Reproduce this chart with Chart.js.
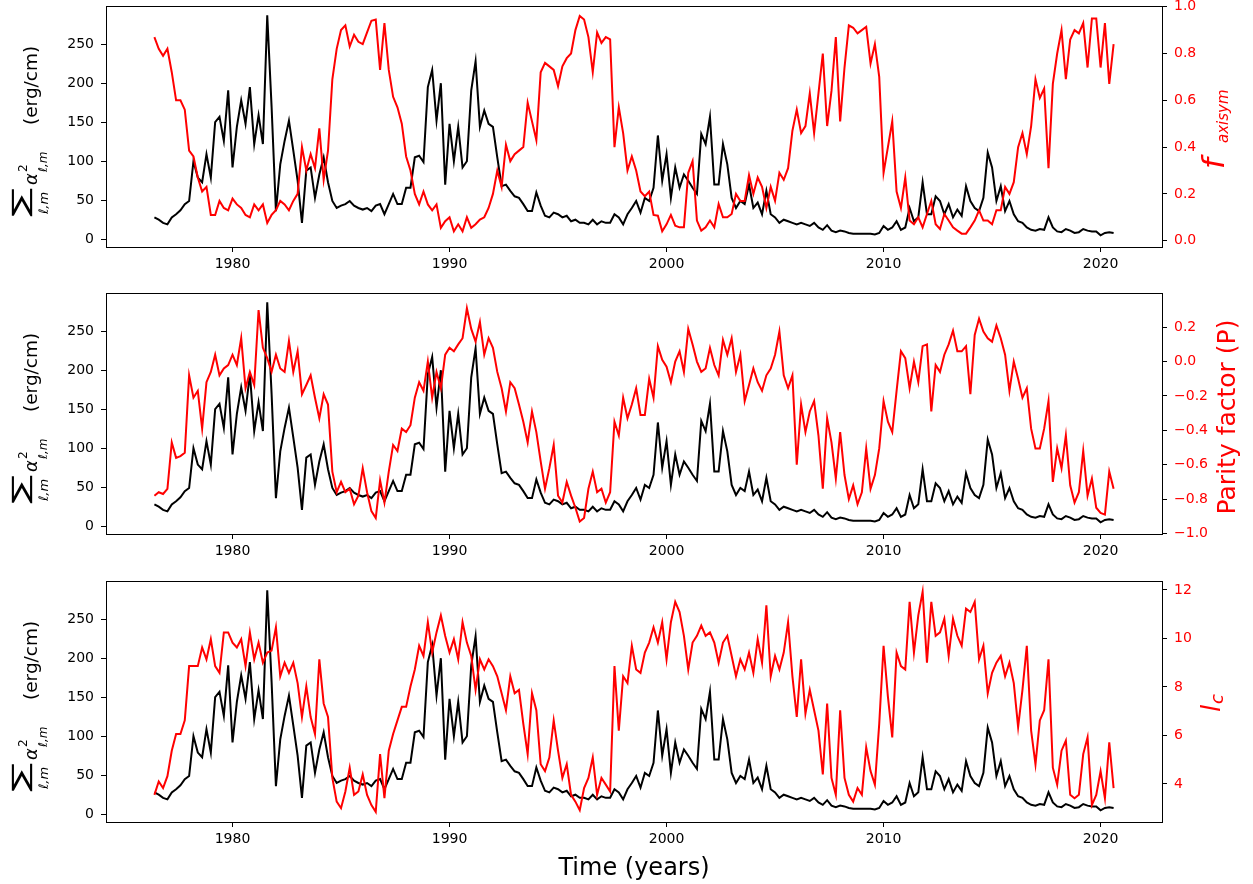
<!DOCTYPE html>
<html>
<head>
<meta charset="utf-8">
<script src="https://cdn.jsdelivr.net/npm/chart.js@4.4.0/dist/chart.umd.min.js"></script>
<style>
  html, body { margin: 0; padding: 0; background: #fff; }
  #wrap { position: relative; width: 1253px; height: 884px; }
  #wrap canvas { position: absolute; left: 0; }
</style>
</head>
<body>
<div id="wrap">
  <canvas id="p1" width="1253" height="287" style="top:0px"></canvas>
  <canvas id="p2" width="1253" height="288" style="top:287px"></canvas>
  <canvas id="p3" width="1253" height="309" style="top:575px"></canvas>
</div>
<script>
// sampling of every series: start year and step (years)
const T0 = 1976.4;
const DT = 0.2;

// total power, sum over l,m of alpha^2 (erg/cm)
const sumAlpha = [
  28, 25, 21,                 // 1976
  19, 28, 32, 37, 45,         // 1977
  49, 100, 79, 73, 109,
  79, 150, 157, 126, 191,
  92, 144, 178, 148, 195,     // 1980
  122, 159, 122, 287, 170,
  36, 96, 126, 152, 114,
  75, 21, 88, 92, 53,
  83, 105, 73, 49, 40,
  43, 45, 49, 43, 40,         // 1985
  38, 40, 36, 43, 45,
  32, 45, 58, 45, 45,
  66, 66, 105, 107, 99,
  195, 217, 152, 200, 70,
  148, 100, 144, 92, 100,     // 1990
  191, 228, 144, 165, 148,
  144, 105, 68, 70, 62,
  55, 53, 45, 36, 36,
  60, 43, 30, 28, 34,
  32, 28, 30, 23, 25,         // 1995
  21, 21, 19, 25, 19,
  23, 21, 21, 32, 28,
  19, 32, 40, 49, 34,
  53, 49, 66, 133, 75,
  109, 53, 92, 66, 83,        // 2000
  75, 66, 58, 135, 122,
  157, 70, 70, 122, 96,
  53, 40, 49, 45, 70,
  40, 47, 32, 62, 32,
  28, 21, 25, 23, 21,         // 2005
  19, 21, 19, 17, 21,
  15, 12, 18, 11, 9,
  11, 10, 8, 7, 7,
  7, 7, 7, 6, 8,
  17, 12, 15, 23, 12,         // 2010
  15, 40, 23, 28, 73,
  32, 32, 55, 49, 32,
  45, 28, 38, 30, 68,
  49, 40, 36, 53, 111,
  92, 49, 68, 36, 49,         // 2015
  32, 23, 21, 15, 12,
  11, 13, 12, 28, 15,
  10, 9, 13, 11, 8,
  9, 13, 11, 10, 10,
  5, 8, 9, 8                  // 2020
];

// fraction of non-axisymmetric power
const fAxisym = [
  0.87, 0.82, 0.79,
  0.82, 0.72, 0.60, 0.60, 0.56,
  0.385, 0.36, 0.27, 0.21, 0.23,
  0.11, 0.11, 0.17, 0.14, 0.13,
  0.18, 0.155, 0.14, 0.11, 0.10,       // 1980
  0.155, 0.13, 0.155, 0.076, 0.11,
  0.13, 0.17, 0.155, 0.13, 0.17,
  0.20, 0.40, 0.30, 0.37, 0.31,
  0.48, 0.26, 0.385, 0.69, 0.82,
  0.90, 0.92, 0.83, 0.88, 0.85,        // 1985
  0.84, 0.89, 0.94, 0.945, 0.73,
  0.93, 0.73, 0.615, 0.57, 0.50,
  0.36, 0.30, 0.20, 0.155, 0.21,
  0.155, 0.13, 0.155, 0.055, 0.083,
  0.10, 0.04, 0.07, 0.04, 0.10,        // 1990
  0.055, 0.07, 0.09, 0.10, 0.14,
  0.20, 0.30, 0.23, 0.41, 0.34,
  0.37, 0.385, 0.40, 0.59, 0.51,
  0.43, 0.72, 0.76, 0.745, 0.73,
  0.66, 0.745, 0.78, 0.80, 0.90,       // 1995
  0.96, 0.945, 0.87, 0.72, 0.89,
  0.845, 0.87, 0.86, 0.40, 0.57,
  0.46, 0.30, 0.36, 0.30, 0.21,
  0.19, 0.21, 0.11, 0.107, 0.04,
  0.07, 0.11, 0.064, 0.057, 0.057,     // 2000
  0.29, 0.34, 0.086, 0.043, 0.057,
  0.086, 0.057, 0.157, 0.10, 0.10,
  0.114, 0.20, 0.17, 0.17, 0.28,
  0.20, 0.27, 0.23, 0.14, 0.23,
  0.17, 0.29, 0.26, 0.31, 0.47,        // 2005
  0.56, 0.46, 0.49, 0.63, 0.46,
  0.63, 0.80, 0.49, 0.64, 0.87,
  0.51, 0.74, 0.92, 0.91, 0.886,
  0.90, 0.914, 0.757, 0.84, 0.70,
  0.29, 0.40, 0.51, 0.21, 0.14,        // 2010
  0.27, 0.086, 0.07, 0.10, 0.057,
  0.114, 0.17, 0.07, 0.05, 0.114,
  0.086, 0.057, 0.043, 0.03, 0.03,
  0.057, 0.086, 0.13, 0.086, 0.086,
  0.07, 0.13, 0.13, 0.23, 0.20,        // 2015
  0.25, 0.40, 0.46, 0.37, 0.49,
  0.69, 0.61, 0.65, 0.31, 0.67,
  0.80, 0.90, 0.69, 0.86, 0.90,
  0.886, 0.93, 0.74, 0.95, 0.95,
  0.74, 0.93, 0.67, 0.84               // 2020
];

// parity factor P
const parity = [
  -0.78, -0.76, -0.77,
  -0.74, -0.47, -0.56, -0.55, -0.53,
  -0.08, -0.21, -0.17, -0.39, -0.12,
  -0.06, 0.04, -0.08, -0.04, -0.02,
  0.04, -0.02, 0.136, -0.155, -0.06,   // 1980
  -0.136, 0.30, 0.08, 0.02, -0.06,
  0.04, -0.04, -0.06, 0.12, -0.06,
  0.06, -0.19, -0.136, -0.08, -0.21,
  -0.33, -0.19, -0.25, -0.64, -0.76,
  -0.70, -0.76, -0.74, -0.83, -0.78,   // 1985
  -0.62, -0.76, -0.87, -0.91, -0.69,
  -0.82, -0.64, -0.485, -0.52, -0.39,
  -0.41, -0.37, -0.21, -0.12, -0.17,
  0.0, -0.21, -0.06, -0.155, 0.04,
  0.08, 0.06, 0.10, 0.136, 0.31,       // 1990
  0.19, 0.116, 0.23, 0.04, 0.136,
  0.08, -0.06, -0.155, -0.29, -0.12,
  -0.155, -0.25, -0.35, -0.47, -0.29,
  -0.41, -0.58, -0.74, -0.62, -0.485,
  -0.78, -0.82, -0.70, -0.78, -0.85,   // 1995
  -0.93, -0.91, -0.74, -0.64, -0.76,
  -0.74, -0.82, -0.76, -0.35, -0.43,
  -0.21, -0.33, -0.25, -0.155, -0.31,
  -0.31, -0.10, -0.21, 0.09, 0.01,
  -0.03, -0.12, 0.0, 0.06, -0.06,      // 2000
  0.19, 0.10, 0.0, -0.06, -0.04,
  0.08, -0.02, -0.08, 0.126, 0.04,
  0.136, -0.06, 0.04, -0.23, -0.136,
  -0.04, -0.12, -0.17, -0.08, -0.04,
  0.04, 0.175, -0.08, -0.155, -0.08,   // 2005
  -0.60, -0.25, -0.41, -0.29, -0.23,
  -0.43, -0.74, -0.33, -0.47, -0.68,
  -0.41, -0.66, -0.80, -0.72, -0.83,
  -0.76, -0.505, -0.74, -0.66, -0.505,
  -0.23, -0.35, -0.41, -0.17, 0.06,    // 2010
  0.02, -0.155, 0.0, -0.12, 0.09,
  0.10, -0.29, -0.02, -0.06, 0.04,
  0.10, 0.18, 0.06, 0.06, 0.09,
  -0.19, 0.155, 0.25, 0.175, 0.136,
  0.116, 0.21, 0.136, 0.04, -0.17,     // 2015
  0.0, -0.10, -0.21, -0.155, -0.39,
  -0.505, -0.505, -0.39, -0.23, -0.70,
  -0.505, -0.62, -0.43, -0.72, -0.82,
  -0.76, -0.52, -0.78, -0.68, -0.85,
  -0.88, -0.89, -0.64, -0.74           // 2020
];

// characteristic degree l_c
const lc = [
  3.55, 4.1, 3.83,
  4.32, 5.37, 6.06, 6.06, 6.62,
  8.86, 8.86, 8.86, 9.63, 9.14,
  9.97, 8.86, 8.58, 10.25, 10.25,
  9.83, 9.63, 9.97, 8.86, 10.25,       // 1980
  9.14, 9.83, 9.0, 9.42, 9.5,
  10.46, 8.44, 9.0, 8.58, 9.0,
  8.16, 6.76, 8.02, 6.76, 6.06,
  9.14, 7.32, 6.76, 4.25, 3.27,
  3.0, 3.69, 4.67, 3.55, 3.69,         // 1985
  4.39, 3.55, 3.13, 2.85, 5.23,
  3.41, 5.37, 6.06, 6.62, 7.18,
  7.18, 8.02, 8.72, 9.7, 9.28,
  10.67, 9.42, 10.25, 10.95, 10.1,
  9.42, 9.97, 9.14, 10.67, 9.83,       // 1990
  9.28, 7.88, 9.14, 8.72, 9.14,
  8.86, 8.44, 7.74, 7.04, 8.44,
  7.74, 7.88, 6.48, 5.23, 7.74,
  7.04, 4.81, 4.53, 5.09, 6.62,
  5.37, 4.25, 4.81, 3.55, 3.27,        // 1995
  2.92, 3.83, 4.25, 5.09, 3.55,
  4.25, 3.97, 3.69, 8.86, 6.2,
  8.44, 8.16, 9.7, 8.72, 8.58,
  9.42, 9.83, 10.46, 9.83, 10.67,
  9.14, 10.67, 11.51, 11.09, 10.11,    // 2000
  8.72, 9.83, 10.11, 10.53, 10.11,
  10.25, 9.83, 9.0, 9.83, 10.11,
  9.28, 8.44, 9.14, 8.72, 9.42,
  8.58, 9.97, 9.0, 11.37, 8.44,
  9.28, 8.72, 9.42, 10.67, 8.44,       // 2005
  6.76, 9.14, 6.9, 7.88, 7.04,
  6.2, 4.39, 7.32, 4.25, 3.55,
  7.04, 4.25, 3.55, 3.27, 3.83,
  3.55, 5.51, 4.53, 3.97, 6.48,
  9.7, 7.6, 5.92, 9.42, 8.86,          // 2010
  8.72, 11.51, 9.42, 10.95, 11.93,
  9.0, 11.51, 10.11, 10.25, 10.81,
  9.28, 10.81, 10.11, 9.7, 11.23,
  11.09, 11.51, 9.14, 9.7, 7.74,
  8.58, 9.0, 9.28, 8.44, 9.0,          // 2015
  8.16, 6.34, 7.88, 9.7, 6.2,
  4.81, 6.62, 7.04, 9.14, 4.67,
  3.97, 5.37, 5.79, 3.55, 3.41,
  3.55, 5.23, 5.92, 3.13, 3.55,
  4.53, 3.41, 5.72, 3.83               // 2020
];

// tick values
const yearTicks = [1980, 1990, 2000, 2010, 2020];
const powerTicks = [0, 50, 100, 150, 200, 250];
const fTicks = [0.0, 0.2, 0.4, 0.6, 0.8, 1.0];
const parityTicks = [-1.0, -0.8, -0.6, -0.4, -0.2, 0.0, 0.2];
const lcTicks = [4, 6, 8, 10, 12];

const years = sumAlpha.map((_, i) => +(T0 + i * DT).toFixed(1));

const RED = '#ff0000';
const FONT = '"DejaVu Sans", sans-serif';
const AREA_LEFT = 106, AREA_RIGHT = 1162, AREA_TOP = 6, AREA_H = 241;

const minus = s => s.replace('-', '\u2212');

function rotated(ctx, x, y, fn) {
  ctx.save();
  ctx.translate(x, y);
  ctx.rotate(-Math.PI / 2);
  ctx.textBaseline = 'alphabetic';
  fn(ctx);
  ctx.restore();
}

// draw one glyph stretched into a box (used for the big sum sign)
function fitGlyph(ctx, ch, font, x0, y0, w, h) {
  ctx.save();
  ctx.font = font;
  const m = ctx.measureText(ch);
  const gl = -m.actualBoundingBoxLeft, gr = m.actualBoundingBoxRight;
  const gt = -m.actualBoundingBoxAscent, gb = m.actualBoundingBoxDescent;
  const sx = w / (gr - gl), sy = h / (gb - gt);
  ctx.translate(x0 - gl * sx, y0 - gt * sy);
  ctx.scale(sx, sy);
  ctx.fillText(ch, 0, 0);
  ctx.restore();
}

function drawPowerTitle(ctx) {
  rotated(ctx, 37, AREA_TOP + 211, c => {
    c.fillStyle = '#000';
    fitGlyph(c, '\u2211', '40px ' + FONT, 0, -25, 29, 21);
    c.font = 'italic 13px ' + FONT; c.fillText('\u2113,m', 3, 11);
    c.font = 'italic 18px ' + FONT; c.fillText('\u03b1', 32, 0);
    c.font = '12px ' + FONT; c.fillText('2', 45, -10);
    c.font = 'italic 12px ' + FONT; c.fillText('\u2113,m', 45, 10);
    c.font = '18.5px ' + FONT; c.fillText('(erg/cm)', 92, 0);
  });
}

const rightTitles = {
  f(ctx) {
    rotated(ctx, 1224, 171, c => {
      c.fillStyle = RED;
      c.font = 'italic 31px ' + FONT; c.fillText('f', 2, 0);
      c.font = 'italic 15px ' + FONT; c.fillText('axisym', 28, 4);
    });
  },
  parity(ctx) {
    rotated(ctx, 1235, 130, c => {
      c.fillStyle = RED;
      c.textAlign = 'center';
      c.font = '25px ' + FONT; c.fillText('Parity factor (P)', 0, 0);
    });
  },
  lc(ctx) {
    rotated(ctx, 1220, 137, c => {
      c.fillStyle = RED;
      c.font = 'italic 26px ' + FONT; c.fillText('l', 0, 0);
      c.font = 'italic 18px ' + FONT; c.fillText('c', 8, 3);
    });
  }
};

function makePanel(id, red, yR, withTime) {
  const el = document.getElementById(id);
  const xy = vals => vals.map((v, i) => ({ x: years[i], y: v }));
  const tickGrid = { drawOnChartArea: false, drawTicks: true, tickLength: 5, color: '#000', lineWidth: 1 };
  const setTicks = vals => s => { s.ticks = vals.map(v => ({ value: v })); };

  const decorations = {
    id: 'decor' + id,
    afterDraw(chart) {
      const ctx = chart.ctx, a = chart.chartArea;
      ctx.save();
      ctx.strokeStyle = '#000';
      ctx.lineWidth = 1;
      ctx.strokeRect(Math.round(a.left) + 0.5, Math.round(a.top) + 0.5,
                     Math.round(a.right - a.left), Math.round(a.bottom - a.top));
      drawPowerTitle(ctx);
      rightTitles[yR.title](ctx);
      if (withTime) {
        ctx.fillStyle = '#000';
        ctx.textAlign = 'center';
        ctx.textBaseline = 'alphabetic';
        ctx.font = '24px ' + FONT;
        ctx.fillText('Time (years)', 634, 300);
      }
      ctx.restore();
    }
  };

  return new Chart(el, {
    type: 'line',
    data: {
      datasets: [
        { data: xy(red), yAxisID: 'yR', borderColor: RED, borderWidth: 2, pointRadius: 0, tension: 0, order: 0 },
        { data: xy(sumAlpha), yAxisID: 'yL', borderColor: '#000', borderWidth: 2, pointRadius: 0, tension: 0, order: 1 }
      ]
    },
    options: {
      responsive: false,
      animation: false,
      devicePixelRatio: 1,
      events: [],
      layout: { padding: { top: AREA_TOP, left: 0, right: 0, bottom: 0 } },
      plugins: { legend: { display: false }, tooltip: { enabled: false } },
      scales: {
        x: {
          type: 'linear', min: 1974.17, max: 2022.83,
          grid: tickGrid, border: { display: false },
          afterBuildTicks: setTicks(yearTicks),
          ticks: { color: '#000', padding: 4, maxRotation: 0, font: { family: FONT, size: 14 }, callback: v => String(v) },
          afterFit: s => { s.height = el.height - AREA_TOP - AREA_H; s.paddingLeft = 0; s.paddingRight = 0; }
        },
        yL: {
          position: 'left', min: -10, max: 299,
          grid: tickGrid, border: { display: false },
          afterBuildTicks: setTicks(powerTicks),
          ticks: { color: '#000', padding: 7, font: { family: FONT, size: 14 }, callback: v => String(v) },
          afterFit: s => { s.width = AREA_LEFT; s.paddingTop = 0; s.paddingBottom = 0; }
        },
        yR: {
          position: 'right', min: yR.min, max: yR.max,
          grid: tickGrid, border: { display: false },
          afterBuildTicks: setTicks(yR.ticks),
          ticks: { color: RED, padding: 7, font: { family: FONT, size: 14 }, callback: yR.fmt },
          afterFit: s => { s.width = el.width - AREA_RIGHT; s.paddingTop = 0; s.paddingBottom = 0; }
        }
      }
    },
    plugins: [decorations]
  });
}

makePanel('p1', fAxisym, { min: -0.027, max: 1.003, ticks: fTicks, fmt: v => minus(v.toFixed(1)), title: 'f' }, false);
makePanel('p2', parity, { min: -1.003, max: 0.399, ticks: parityTicks, fmt: v => minus(v.toFixed(1)), title: 'parity' }, false);
makePanel('p3', lc, { min: 2.43, max: 12.37, ticks: lcTicks, fmt: v => String(v), title: 'lc' }, true);
</script>
</body>
</html>
